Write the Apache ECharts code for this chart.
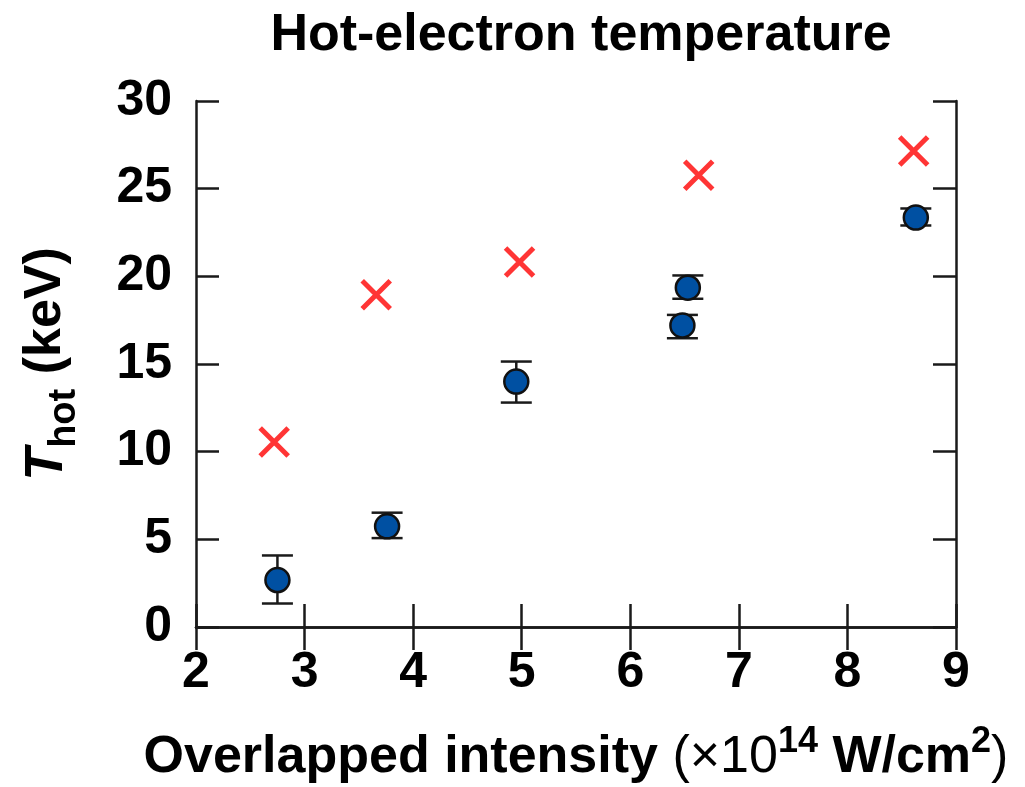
<!DOCTYPE html>
<html><head><meta charset="utf-8">
<script src="https://cdn.jsdelivr.net/npm/echarts@6/dist/echarts.min.js"></script>
<style>html,body{margin:0;padding:0;background:#fff}#c{width:1025px;height:787px}</style>
</head><body><div id="c"></div>
<script>
// Data
var crossX = [2.72, 3.66, 4.98, 6.63, 8.61];
var crossY = [10.55, 18.95, 20.82, 25.77, 27.15];
var dotX = [2.75, 3.76, 4.95, 6.48, 6.53, 8.63];
var dotY = [2.68, 5.74, 14.0, 17.2, 19.35, 23.35];
var errLow = [1.34, 5.07, 12.8, 16.47, 18.72, 22.9];
var errHigh = [4.08, 6.52, 15.14, 17.8, 20.05, 23.87];
var xTicks = [2, 3, 4, 5, 6, 7, 8, 9];
var yTicks = [0, 5, 10, 15, 20, 25, 30];

var FONT = 'Liberation Sans, Arial, sans-serif';
var chart = echarts.init(document.getElementById('c'));

var crossData = crossX.map(function (x, i) { return [x, crossY[i]]; });
var dotData = dotX.map(function (x, i) { return [x, dotY[i]]; });
var errData = dotX.map(function (x, i) { return [x, errLow[i], errHigh[i]]; });

var tickLabel = { fontFamily: FONT, fontWeight: 'bold', fontSize: 50, color: '#000' };
var lineStyle = { color: '#1a1a1a', width: 2.5 };

chart.setOption({
  animation: false,
  backgroundColor: '#fff',
  title: {
    text: 'Hot-electron temperature',
    left: 576, top: 5, textAlign: 'center',
    textStyle: { fontFamily: FONT, fontWeight: 'bold', fontSize: 52, color: '#000' }
  },
  grid: { left: 196, right: 69, top: 101, bottom: 160, show: false, containLabel: false, outerBoundsMode: 'none' },
  xAxis: [{
    type: 'value', min: 2, max: 9, interval: 1, position: 'bottom',
    axisLine: { show: true, lineStyle: lineStyle },
    axisTick: { show: true, inside: true, length: 23, lineStyle: lineStyle },
    axisLabel: Object.assign({ margin: 21, formatter: function (v) { return xTicks.indexOf(v) >= 0 ? String(v) : ''; } }, tickLabel),
    splitLine: { show: false },
    name: '{b|Overlapped intensity }{n|(×10}{sup|14}{b| W/cm}{sup|2}{n|)}',
    nameLocation: 'middle', nameGap: 97,
    nameTextStyle: {
      rich: {
        b: { fontFamily: FONT, fontWeight: 'bold', fontSize: 52, color: '#000', lineHeight: 60, verticalAlign: 'bottom' },
        n: { fontFamily: FONT, fontWeight: 'normal', fontSize: 52, color: '#000', lineHeight: 60, verticalAlign: 'bottom' },
        sup: { fontFamily: FONT, fontWeight: 'bold', fontSize: 36, color: '#000', lineHeight: 60, verticalAlign: 'top' }
      }
    }
  }, {
    type: 'value', min: 2, max: 9, interval: 1, position: 'top',
    axisLine: { show: true, lineStyle: lineStyle },
    axisTick: { show: true, inside: true, length: 23, lineStyle: lineStyle },
    axisLabel: { show: false }, splitLine: { show: false }
  }],
  yAxis: [{
    type: 'value', min: 0, max: 30, interval: 5, position: 'left',
    axisLine: { show: true, lineStyle: lineStyle },
    axisTick: { show: true, inside: true, length: 23, lineStyle: lineStyle },
    axisLabel: Object.assign({ margin: 24, formatter: function (v) { return yTicks.indexOf(v) >= 0 ? String(v) : ''; } }, tickLabel),
    splitLine: { show: false },
    name: '{i|T}{sub|hot}{b| (keV)}',
    nameLocation: 'middle', nameGap: 112, nameRotate: 90,
    nameTextStyle: {
      rich: {
        i: { fontFamily: FONT, fontWeight: 'bold', fontStyle: 'italic', fontSize: 54, color: '#000', lineHeight: 64, verticalAlign: 'top' },
        b: { fontFamily: FONT, fontWeight: 'bold', fontSize: 52, color: '#000', lineHeight: 64, verticalAlign: 'top' },
        sub: { fontFamily: FONT, fontWeight: 'bold', fontSize: 38, color: '#000', lineHeight: 64, verticalAlign: 'bottom' }
      }
    }
  }, {
    type: 'value', min: 0, max: 30, interval: 5, position: 'right',
    axisLine: { show: true, lineStyle: lineStyle },
    axisTick: { show: true, inside: true, length: 23, lineStyle: lineStyle },
    axisLabel: { show: false }, splitLine: { show: false }
  }],
  series: [{
    type: 'scatter', name: 'cross', data: crossData,
    symbol: 'path://M0 0L10 10M10 0L0 10', symbolSize: 28,
    itemStyle: { color: 'none', borderColor: '#ff3535', borderWidth: 5, opacity: 1 },
    z: 3
  }, {
    type: 'custom', name: 'err', data: errData,
    renderItem: function (params, api) {
      var x = api.value(0);
      var lo = api.coord([x, api.value(1)]);
      var hi = api.coord([x, api.value(2)]);
      var w = 15.5;
      var st = { stroke: '#1a1a1a', lineWidth: 2.5, fill: null };
      return {
        type: 'group',
        children: [
          { type: 'line', shape: { x1: lo[0], y1: lo[1], x2: hi[0], y2: hi[1] }, style: st },
          { type: 'line', shape: { x1: lo[0] - w, y1: lo[1], x2: lo[0] + w, y2: lo[1] }, style: st },
          { type: 'line', shape: { x1: hi[0] - w, y1: hi[1], x2: hi[0] + w, y2: hi[1] }, style: st }
        ]
      };
    },
    z: 4
  }, {
    type: 'scatter', name: 'dots', data: dotData,
    symbol: 'circle', symbolSize: 24,
    itemStyle: { color: '#0050a2', borderColor: '#111', borderWidth: 2.5, opacity: 1 },
    z: 5
  }]
});
</script></body></html>
